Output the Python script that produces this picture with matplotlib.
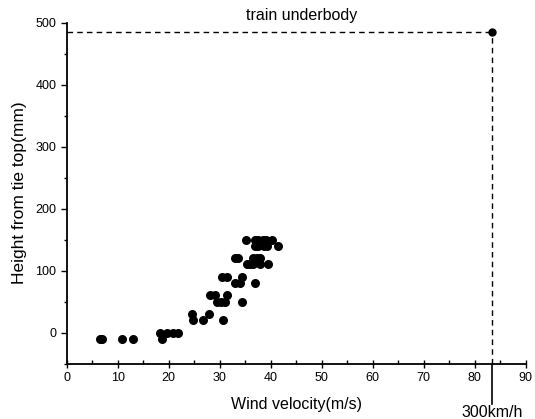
import matplotlib.pyplot as plt
from matplotlib.ticker import MultipleLocator

plt.rcParams['font.family'] = ['Liberation Sans', 'DejaVu Sans']

# measured points: wind velocity (m/s) vs height from tie top (mm)
wind_speed = [6.5, 7.0, 10.9, 12.9, 18.3, 18.6, 19.6, 20.9, 21.9,
              24.5, 24.8, 26.8, 27.8, 30.6,
              28.0, 29.1, 29.4, 30.2, 31.0, 31.4, 34.3,
              30.4, 31.4, 34.3, 33.0, 34.0, 36.9,
              33.0, 33.6, 36.5, 37.3, 37.9, 35.3, 36.0, 36.6, 37.9, 39.5,
              35.2, 36.9, 37.5, 38.4, 39.0, 40.2, 37.0, 37.6, 38.6, 39.3, 41.5]
height = [-10, -10, -10, -10, 0, -10, 0, 0, 0,
          30, 20, 20, 30, 20,
          60, 60, 50, 50, 50, 60, 50,
          90, 90, 90, 80, 80, 80,
          120, 120, 120, 120, 120, 110, 110, 110, 110, 110,
          150, 150, 150, 150, 150, 150, 140, 140, 140, 140, 140]

train_speed = 83.3      # 300 km/h in m/s
underbody_height = 485  # mm

fig = plt.figure(figsize=(5.35, 4.19), dpi=100)
ax = fig.add_axes([0.1247, 0.132, 0.858, 0.814])

ax.scatter(wind_speed, height, s=30, color='black', zorder=3)

# train underbody reference
ax.plot([0, train_speed], [underbody_height, underbody_height], color='black',
        linestyle=(0, (4, 3)), linewidth=1.0, clip_on=False)
ax.plot([train_speed, train_speed], [-50, underbody_height], color='black',
        linestyle=(0, (4, 3)), linewidth=1.0, clip_on=False)
ax.plot([train_speed], [underbody_height], 'o', color='black', markersize=5,
        clip_on=False)
ax.plot([train_speed, train_speed], [-50, -115], color='black',
        linewidth=1.2, clip_on=False)

ax.text(46, 512, 'train underbody', ha='center', va='center', fontsize=11.5)
ax.text(train_speed + 0.2, -128, '300km/h', ha='center', va='center',
        fontsize=11.5)

ax.set_xlim(0, 90)
ax.set_ylim(-50, 500)
ax.xaxis.set_major_locator(MultipleLocator(10))
ax.xaxis.set_minor_locator(MultipleLocator(5))
ax.yaxis.set_major_locator(MultipleLocator(100))
ax.yaxis.set_minor_locator(MultipleLocator(50))

ax.spines['top'].set_visible(False)
ax.spines['right'].set_visible(False)
ax.spines['left'].set_linewidth(1.3)
ax.spines['bottom'].set_linewidth(1.3)

ax.tick_params(axis='x', which='major', direction='inout', length=6, width=1,
               labelsize=9, pad=3)
ax.tick_params(axis='x', which='minor', direction='in', length=3, width=1)
ax.tick_params(axis='y', which='major', direction='out', length=4, width=1,
               labelsize=9)
ax.tick_params(axis='y', which='minor', direction='out', length=2.5, width=1)

ax.set_xlabel('Wind velocity(m/s)', fontsize=11.5, labelpad=9)
ax.set_ylabel('Height from tie top(mm)', fontsize=12.5, labelpad=6)

fig.savefig('out.png', dpi=100)
